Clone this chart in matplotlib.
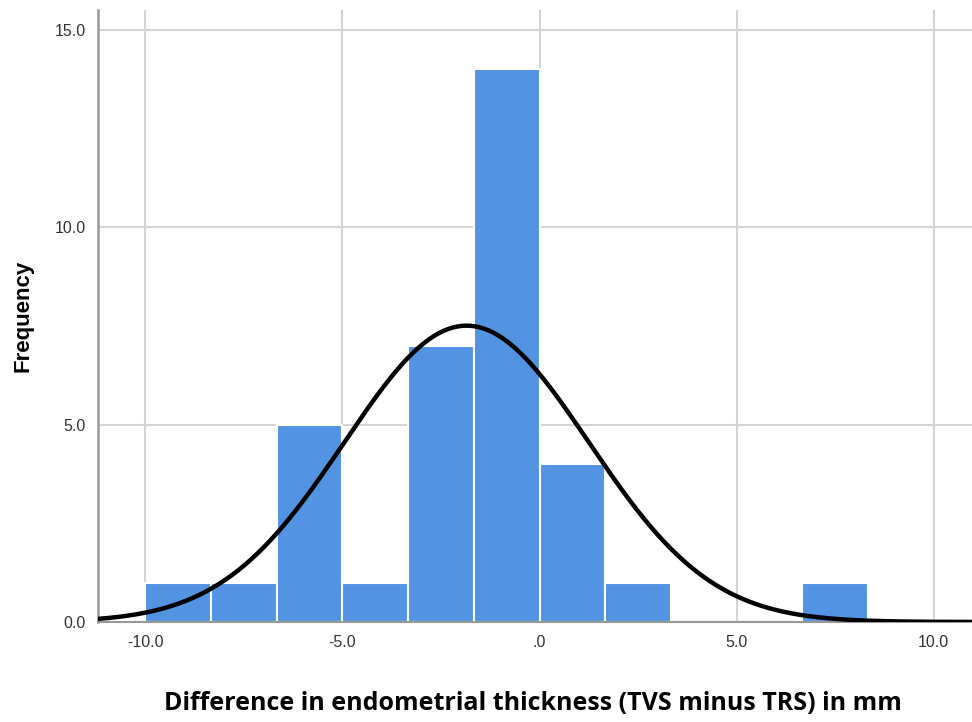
import numpy as np
import matplotlib.pyplot as plt

# histogram of differences (mm), bin width 5/3
bin_edges = [-10.0, -8.333, -6.667, -5.0, -3.333, -1.667, 0.0, 1.667, 3.333, 5.0, 6.667, 8.333]
counts = [1, 1, 5, 1, 7, 14, 4, 1, 0, 0, 1]

# fitted normal overlay
mean_diff = -1.85
sd_diff = 3.1
n_total = sum(counts)

x_ticks = [-10, -5, 0, 5, 10]
x_tick_labels = ['-10.0', '-5.0', '.0', '5.0', '10.0']
y_ticks = [0, 5, 10, 15]
y_tick_labels = ['0.0', '5.0', '10.0', '15.0']


def main():
    fig = plt.figure(figsize=(9.72, 7.22), dpi=100)
    ax = fig.add_axes([0.1008, 0.1385, 0.8992, 0.8475])

    widths = np.diff(bin_edges)
    ax.bar(bin_edges[:-1], counts, width=widths, align='edge',
           color='#5294e2', edgecolor='white', linewidth=1.5, zorder=2)

    bw = widths.mean()
    xs = np.linspace(-11.2, 11.0, 400)
    ys = n_total * bw / (sd_diff * np.sqrt(2 * np.pi)) * np.exp(-0.5 * ((xs - mean_diff) / sd_diff) ** 2)
    ax.plot(xs, ys, color='black', linewidth=3.2, zorder=3, solid_capstyle='round')

    ax.set_xlim(-11.2, 10.97)
    ax.set_ylim(0, 15.5)
    ax.set_xticks(x_ticks)
    ax.set_xticklabels(x_tick_labels)
    ax.set_yticks(y_ticks)
    ax.set_yticklabels(y_tick_labels)
    ax.tick_params(length=0, labelsize=11.5, labelcolor='#333333', pad=9)
    for lab in ax.get_xticklabels() + ax.get_yticklabels():
        lab.set_family('Liberation Sans')

    ax.grid(True, color='#d4d4d4', linewidth=1.5, zorder=0)
    ax.set_axisbelow(True)
    for side in ['top', 'right']:
        ax.spines[side].set_visible(False)
    ax.spines['left'].set_color('#999999')
    ax.spines['left'].set_linewidth(1.8)
    ax.spines['bottom'].set_color('#999999')
    ax.spines['bottom'].set_linewidth(1.5)

    ax.set_ylabel('Frequency', fontsize=16, fontweight='bold', family='Liberation Sans', labelpad=15)
    fig.text(0.548, 0.008, 'Difference in endometrial thickness (TVS minus TRS) in mm',
             ha='center', va='bottom', fontsize=18, fontweight='bold', family='Open Sans')

    fig.savefig('out.png', dpi=100)


if __name__ == '__main__':
    main()
